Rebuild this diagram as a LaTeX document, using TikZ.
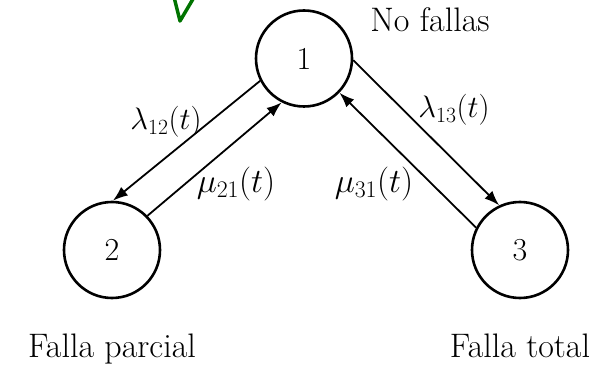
\RequirePackage{fix-cm}
\documentclass[tikz,border=0pt]{standalone}
\usetikzlibrary{arrows.meta}
\begin{document}
\begin{tikzpicture}[x=1pt,y=-1pt,
  state/.style={circle,draw,line width=2.6pt,minimum size=96pt,inner sep=0pt,font=\fontsize{32}{36}\selectfont},
  trans/.style={line width=1.8pt,-{Latex[length=15pt,width=11pt]}},
  lbl/.style={font=\fontsize{34}{40}\selectfont,anchor=base},
  rlam/.style={font=\fontsize{31}{36}\selectfont},
  rmu/.style={font=\fontsize{34}{40}\selectfont}]
\useasboundingbox (0,0) rectangle (602,366);
\node[state] (c1) at (304,58.5) {1};
\node[state] (c2) at (112,250) {2};
\node[state] (c3) at (520,250) {3};
\draw[trans] (c1.207) -- (c2.89);
\draw[trans] (c2.44) -- (c1.243);
\draw[trans] (c1.-2) -- (c3.115);
\draw[trans] (c3.153) -- (c1.-44);
\node[rlam] (l12) at (166,122) {$\lambda_{12}(t)$};
\node[rmu] (m21) at (236,184) {$\mu_{21}(t)$};
\node[rlam] (l13) at (454,110) {$\lambda_{13}(t)$};
\node[rmu] (m31) at (374,184) {$\mu_{31}(t)$};
\node[lbl] (t1) at (430,32) {No fallas};
\node[lbl] (t2) at (112,357) {Falla parcial};
\node[lbl] (t3) at (520,357) {Falla total};
\definecolor{vgreen}{RGB}{0,115,0}
\draw[vgreen,line width=3.5pt,line join=round] (174.5,-1) -- (180,21) -- (193,-1);
\end{tikzpicture}
\end{document}
